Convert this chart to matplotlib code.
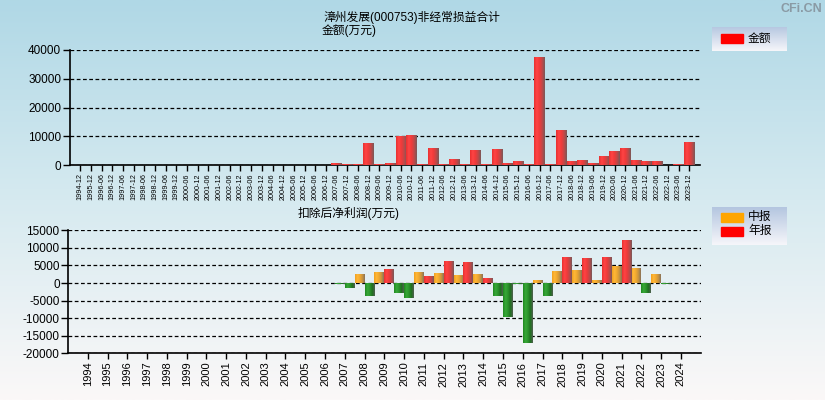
import matplotlib
matplotlib.use('Agg')
import matplotlib.pyplot as plt
import numpy as np
from matplotlib.colors import LinearSegmentedColormap
from matplotlib.patches import Rectangle

plt.rcParams['font.family'] = ['Liberation Sans', 'Noto Sans CJK SC', 'DejaVu Sans']
plt.rcParams['axes.unicode_minus'] = False

# 非经常损益合计 (万元)
periods = ['1994-12', '1995-12',
           '1996-06', '1996-12', '1997-06', '1997-12', '1998-06', '1998-12',
           '1999-06', '1999-12', '2000-06', '2000-12', '2001-06', '2001-12',
           '2002-06', '2002-12', '2003-06', '2003-12', '2004-06', '2004-12',
           '2005-06', '2005-12', '2006-06', '2006-12', '2007-06', '2007-12',
           '2008-06', '2008-12', '2009-06', '2009-12', '2010-06', '2010-12',
           '2011-06', '2011-12', '2012-06', '2012-12', '2013-06', '2013-12',
           '2014-06', '2014-12', '2015-06', '2015-12', '2016-06', '2016-12',
           '2017-06', '2017-12', '2018-06', '2018-12', '2019-06', '2019-12',
           '2020-06', '2020-12', '2021-06', '2021-12', '2022-06', '2022-12',
           '2023-06', '2023-12']
amount = [0] * 24 + [700, 350, 350, 7650, 300, 700, 10100, 10440,
                     350, 5900, 350, 2100, 350, 5200, 350, 5570,
                     700, 1400, 350, 37600, 350, 12200, 1400, 1740,
                     700, 3130, 4870, 5900, 1740, 1400, 1400, 0,
                     350, 8000]

# 扣除后净利润 (万元)
years = list(range(1994, 2025))
mid = [np.nan] * 13 + [-300, 2550, 3100, -2830, 3100, 2830, 2260, 2550,
                       -3680, -200, 850, 3400, 3680, 850, 4810, 4240, 2550, np.nan]
annual = [np.nan] * 13 + [-1400, -3600, 3960, -4250, 1980, 6220, 5940, 1410,
                          -9620, -16970, -3680, 7360, 7070, 7360, 12170, -2830, -300, np.nan]

red_cm = LinearSegmentedColormap.from_list('r', ['#e83030', '#ff4444', '#f03a3a', '#c04848', '#7a5858'])
org_cm = LinearSegmentedColormap.from_list('o', ['#f0a020', '#ffb838', '#f0a830', '#c89440', '#8a7258'])
grn_cm = LinearSegmentedColormap.from_list('g', ['#208820', '#38a838', '#2c942c', '#207020', '#506050'])

fig = plt.figure(figsize=(8.25, 4), dpi=100)

# background gradient
bg = fig.add_axes([0, 0, 1, 1], zorder=-10)
bg_cm = LinearSegmentedColormap.from_list('bg', ['#b0d8e6', '#d6eaf0', '#fbf8f8'])
bg.imshow(np.linspace(0, 1, 256).reshape(-1, 1), aspect='auto', cmap=bg_cm,
          extent=[0, 1, 0, 1], origin='upper')
bg.axis('off')


def shade(ax, bars, cmaps):
    g = np.linspace(0, 1, 64).reshape(1, -1)
    for b, cm in zip(bars, cmaps):
        h = b.get_height()
        if not np.isfinite(h) or h == 0:
            continue
        x, y, w = b.get_x(), b.get_y(), b.get_width()
        im = ax.imshow(g, aspect='auto', cmap=cm, zorder=3,
                       extent=[x, x + w, min(y, y + h), max(y, y + h)])
        im.set_clip_path(b)


def style(ax):
    ax.set_facecolor('none')
    for s in ['top', 'right']:
        ax.spines[s].set_visible(False)
    ax.spines['left'].set_linewidth(1.2)
    ax.spines['bottom'].set_linewidth(1.2)
    ax.tick_params(axis='y', labelsize=8.5, length=5, width=1, pad=1)
    ax.tick_params(axis='x', length=4, width=1, pad=2)
    ax.yaxis.grid(True, color='black', linestyle=(0, (3, 2)), linewidth=0.9)
    ax.set_axisbelow(True)


# top chart
ax1 = fig.add_axes([69.5 / 825, 1 - 165 / 400, (700 - 69.5) / 825, 115 / 400])
style(ax1)
x1 = np.arange(len(periods))
b1 = ax1.bar(x1, amount, width=0.98, color='#ff3a3a', zorder=2)
shade(ax1, b1, [red_cm] * len(amount))
ax1.set_xlim(-1, len(periods))
ax1.set_ylim(0, 40000)
ax1.set_yticks([0, 10000, 20000, 30000, 40000])
ax1.set_xticks(x1)
ax1.set_xticklabels(periods, rotation=90, fontsize=5.2)

# bottom chart
ax2 = fig.add_axes([68 / 825, 1 - 353.3 / 400, (700.7 - 68) / 825, 123 / 400])
style(ax2)
yr = np.array(years)
m_cols = ['#f0a020' if v >= 0 else '#2c942c' for v in np.nan_to_num(mid)]
a_cols = ['#ff3a3a' if v >= 0 else '#2c942c' for v in np.nan_to_num(annual)]
b_mid = ax2.bar(yr - 0.25, mid, width=0.5, color=m_cols, zorder=2)
b_ann = ax2.bar(yr + 0.25, annual, width=0.5, color=a_cols, zorder=2)
shade(ax2, b_mid, [org_cm if v >= 0 else grn_cm for v in np.nan_to_num(mid)])
shade(ax2, b_ann, [red_cm if v >= 0 else grn_cm for v in np.nan_to_num(annual)])
ax2.set_xlim(1993, 2025)
ax2.set_ylim(-20000, 15000)
ax2.set_yticks(np.arange(-20000, 15001, 5000))
ax2.set_xticks(years)
ax2.set_xticklabels([str(y) for y in years], rotation=90, fontsize=8)

# titles
fig.text(323 / 825, 1 - 17 / 400, '漳州发展(000753)非经常损益合计', fontsize=8.5, va='center', ha='left')
fig.text(322 / 825, 1 - 31 / 400, '金额(万元)', fontsize=8.5, va='center', ha='left')
fig.text(298 / 825, 1 - 213 / 400, '扣除后净利润(万元)', fontsize=8.5, va='center', ha='left')
fig.text(822 / 825, 1 - 9 / 400, 'CFi.CN', fontsize=9, fontweight='bold', color='#8a9aa4',
         ha='right', va='center')


def legend_box(y0, y1, items):
    lax = fig.add_axes([712 / 825, 1 - y1 / 400, 75 / 825, (y1 - y0) / 400], zorder=5)
    lcm = LinearSegmentedColormap.from_list('l', ['#b4c6e0', '#f6f6fa'])
    lax.imshow(np.linspace(0, 1, 64).reshape(-1, 1), aspect='auto', cmap=lcm,
               extent=[0, 75, 0, y1 - y0], origin='lower')
    lax.set_xlim(0, 75)
    lax.set_ylim(y1 - y0, 0)
    lax.axis('off')
    for yc, col, label in items:
        lax.add_patch(Rectangle((9, yc - y0 - 4.5), 22, 9, color=col))
        lax.text(36, yc - y0, label, fontsize=8.5, va='center', ha='left')


legend_box(27, 51, [(39, '#ff0000', '金额')])
legend_box(207, 245, [(217, '#ffa500', '中报'), (231, '#ff0000', '年报')])

fig.savefig('out.png', dpi=100)
